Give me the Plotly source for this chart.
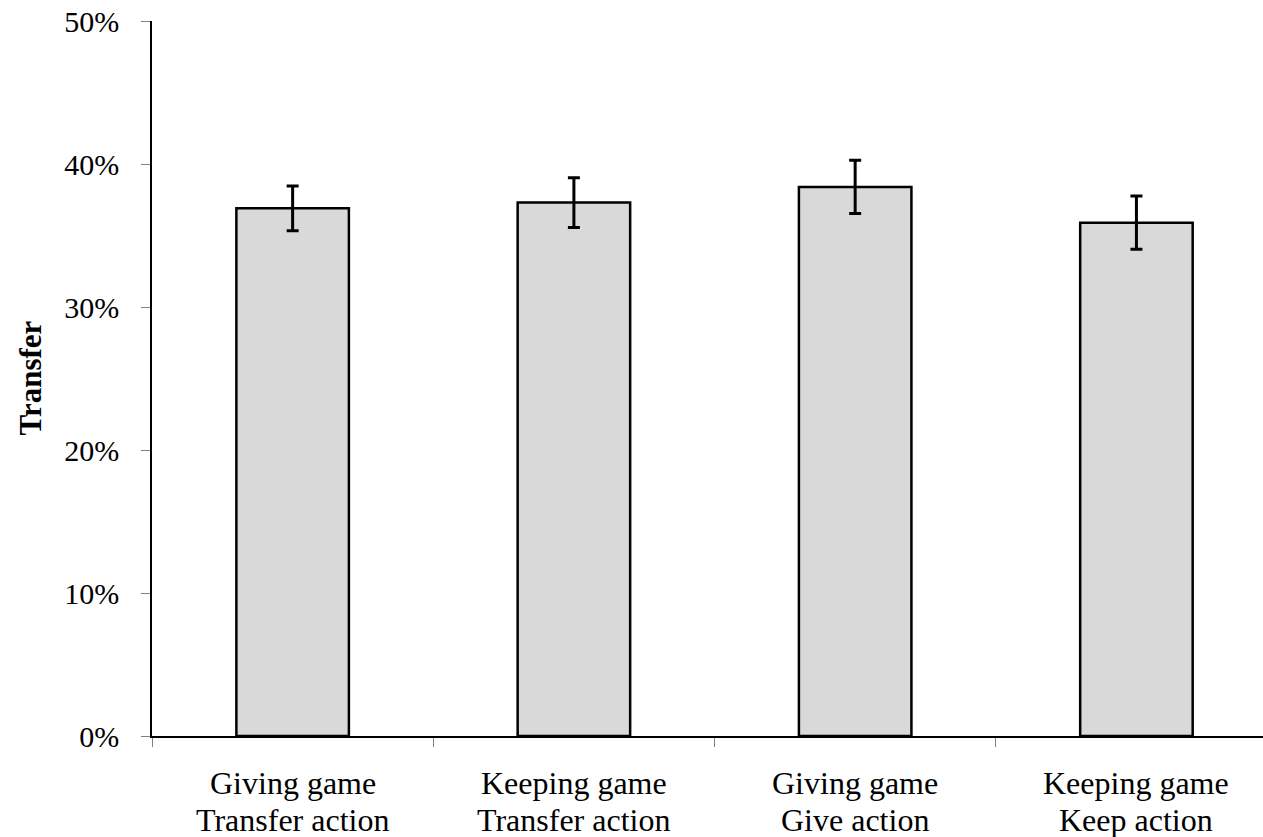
import plotly.graph_objects as go

# Mean transfer share per condition with standard errors
line1 = ["Giving game", "Keeping game", "Giving game", "Keeping game"]
line2 = ["Transfer action", "Transfer action", "Give action", "Keep action"]
categories = [f"{a}<br>{b}" for a, b in zip(line1, line2)]
transfer = [0.369, 0.373, 0.384, 0.359]
stderr = [0.0156, 0.0174, 0.0186, 0.0186]

y_ticks = [0.0, 0.1, 0.2, 0.3, 0.4, 0.5]

FONT = "Liberation Serif"

fig = go.Figure(
    go.Bar(
        x=categories,
        y=transfer,
        width=0.4,
        marker=dict(color="#d9d9d9", line=dict(color="black", width=2.5)),
        error_y=dict(type="data", array=stderr, visible=True,
                     color="black", thickness=3, width=6),
    )
)

# Two-line category labels below the axis
for cat, a, b in zip(categories, line1, line2):
    fig.add_annotation(x=cat, xref="x", y=0, yref="paper", text=a,
                       showarrow=False, yanchor="middle", yshift=-47,
                       font=dict(family=FONT, size=32, color="black"))
    fig.add_annotation(x=cat, xref="x", y=0, yref="paper", text=b,
                       showarrow=False, yanchor="middle", yshift=-84,
                       font=dict(family=FONT, size=32, color="black"))

fig.add_annotation(x=0, xref="paper", y=0.5, yref="paper", text="<b>Transfer</b>",
                   textangle=-90, showarrow=False, xanchor="center", yanchor="middle",
                   xshift=-122, font=dict(family=FONT, size=31, color="black"))

fig.update_layout(
    width=1263, height=837,
    margin=dict(l=152, r=0, t=21, b=101, pad=0),
    paper_bgcolor="white", plot_bgcolor="white",
    showlegend=False,
    font=dict(family=FONT, size=30, color="black"),
    xaxis=dict(
        type="category", range=[-0.5, 3.45],
        showticklabels=False, tickson="boundaries",
        ticks="outside", ticklen=9, tickwidth=1, tickcolor="#808080",
        showline=True, linecolor="black", linewidth=1.5,
        showgrid=False, zeroline=False,
    ),
    yaxis=dict(
        range=[0, 0.5], tickvals=y_ticks, tickformat=".0%",
        ticks="outside", ticklen=9, tickwidth=1, tickcolor="#808080",
        ticklabelstandoff=16,
        tickfont=dict(family=FONT, size=30, color="black"),
        showline=True, linecolor="black", linewidth=1.5,
        showgrid=False, zeroline=False,
    ),
)

fig.write_html("out.html")
